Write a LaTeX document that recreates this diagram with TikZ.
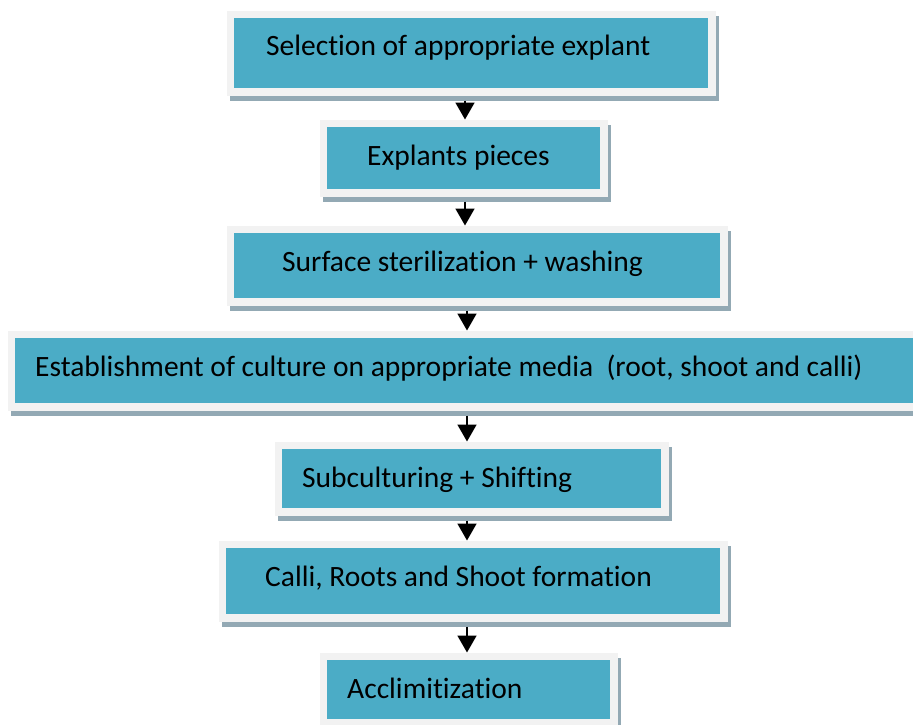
\documentclass[tikz,border=0pt]{standalone}
\usepackage{fontspec}
\setmainfont[Ligatures=NoCommon]{Carlito}
\usetikzlibrary{arrows.meta}
\definecolor{tealfill}{HTML}{4BACC6}
\definecolor{framegray}{HTML}{F2F2F2}
\definecolor{shadowgray}{HTML}{93A9B4}
\tikzset{
  shadowbox/.style={fill=shadowgray, draw=none, inner sep=0pt, outer sep=0pt, anchor=north west},
  framebox/.style={fill=framegray, draw=none, inner sep=0pt, outer sep=0pt, anchor=north west},
  tealbox/.style={fill=tealfill, draw=none, inner sep=0pt, outer sep=0pt, anchor=north west},
  steptext/.style={inner sep=0pt, anchor=base west, font=\fontsize{29.5}{34}\selectfont, text=black},
  flowarrow/.style={line width=1.8pt, -{Triangle[width=19pt,length=17pt]}}
}
% name, x1, y1, x2, y2 (teal area), text x, text baseline, text
\newcommand\flowstep[8]{%
  \pgfmathsetmacro\stepw{#4-#2}%
  \pgfmathsetmacro\steph{#5-#3}%
  \node[shadowbox, minimum width=\stepw pt+15pt, minimum height=\steph pt+15pt] (s#1) at (#2-7.5+3,#3-7.5+5) {};
  \node[framebox, minimum width=\stepw pt+15pt, minimum height=\steph pt+15pt] (f#1) at (#2-7.5,#3-7.5) {};
  \node[tealbox, minimum width=\stepw pt, minimum height=\steph pt] (b#1) at (#2,#3) {};
  \node[steptext] (t#1) at (#6,#7) {#8};
}
\begin{document}
\begin{tikzpicture}[x=1pt,y=-1pt]
  \useasboundingbox (0,0) rectangle (913,724);
  \clip (0,0) rectangle (913,724);
  \flowstep{1}{234}{18}{708}{88}{266}{55}{Selection of appropriate explant}
  \flowstep{2}{327}{127}{600}{189}{367}{165}{Explants pieces}
  \flowstep{3}{234}{233}{720}{298}{282}{271}{Surface sterilization + washing}
  \flowstep{4}{15}{338}{925}{403}{35}{376}{Establishment of culture on appropriate media \ (root, shoot and calli)}
  \flowstep{5}{282}{449}{661}{508}{302}{487}{Subculturing + Shifting}
  \flowstep{6}{226}{548}{720}{614}{265}{586}{Calli, Roots and Shoot formation}
  \flowstep{7}{327}{660}{610}{719}{347}{698}{Acclimitization}
  \coordinate (xa) at (465,0);
  \coordinate (xb) at (467,0);
  \draw[flowarrow] (s1.south -| xa) -- (f2.north -| xa);
  \draw[flowarrow] (s2.south -| xa) -- (f3.north -| xa);
  \draw[flowarrow] (s3.south -| xb) -- (f4.north -| xb);
  \draw[flowarrow] (s4.south -| xb) -- (f5.north -| xb);
  \draw[flowarrow] (s5.south -| xb) -- (f6.north -| xb);
  \draw[flowarrow] (s6.south -| xb) -- (f7.north -| xb);
\end{tikzpicture}
\end{document}
